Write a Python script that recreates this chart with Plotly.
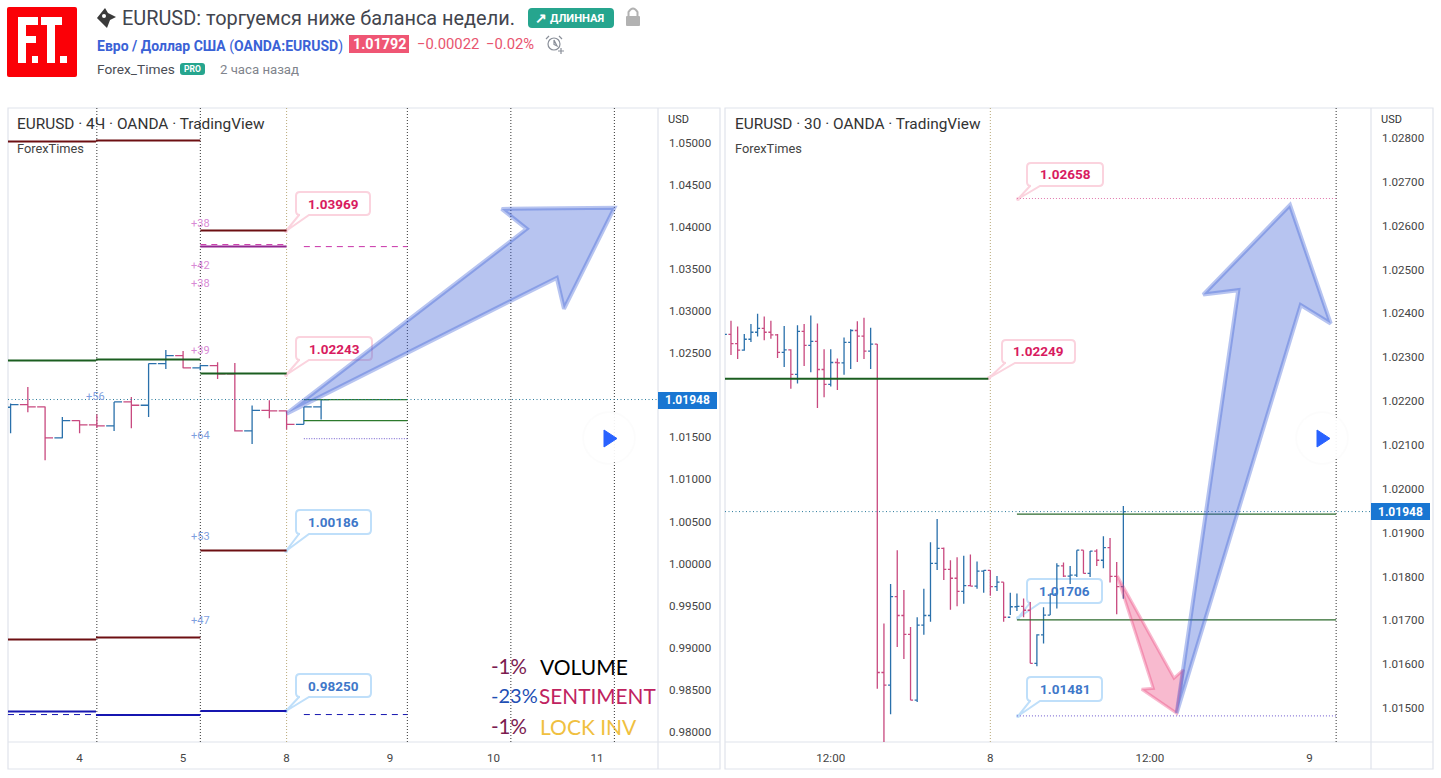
import plotly.graph_objects as go

W, H = 1441, 778

# 4H panel bars
left_open = [1.01856, 1.01888, 1.01860, 1.01492, 1.01698, 1.01646, 1.01634, 1.01919, 1.01880, 1.02375,
             1.02470, 1.02323, 1.02351, 1.02252, 1.01575, 1.01820, 1.01813, 1.01654, 1.01860]
left_high = [1.01900, 1.02098, 1.01864, 1.01741, 1.01702, 1.01769, 1.01919, 1.01979, 1.02375, 1.02537,
             1.02525, 1.02363, 1.02391, 1.02383, 1.01876, 1.01939, 1.01817, 1.01860, 1.01948]
left_low = [1.01547, 1.01797, 1.01226, 1.01488, 1.01547, 1.01611, 1.01575, 1.01607, 1.01741, 1.02312,
            1.02319, 1.02296, 1.02193, 1.01567, 1.01421, 1.01725, 1.01591, 1.01654, 1.01710]
left_close = [1.01888, 1.01860, 1.01492, 1.01698, 1.01646, 1.01634, 1.01919, 1.01880, 1.02375, 1.02470,
              1.02323, 1.02351, 1.02252, 1.01575, 1.01820, 1.01813, 1.01654, 1.01860, 1.01948]

# 30m panel bars, first one sits just off the left edge
right_open = [1.02340, 1.02352, 1.02331, 1.02316, 1.02341, 1.02357, 1.02366, 1.02357, 1.02351, 1.02311,
              1.02317, 1.02261, 1.02359, 1.02327, 1.02336, 1.02272, 1.02238, 1.02288, 1.02287, 1.02334,
              1.02361, 1.02348, 1.02314, 1.02330, 1.01581, 1.01552, 1.01754, 1.01711, 1.01668, 1.01518,
              1.01689, 1.01711, 1.01830, 1.01864, 1.01816, 1.01796, 1.01766, 1.01779, 1.01778, 1.01812,
              1.01814, 1.01777, 1.01787, 1.01707, 1.01731, 1.01732, 1.01723, 1.01602, 1.01667, 1.01712,
              1.01760, 1.01824, 1.01801, 1.01803, 1.01860, 1.01807, 1.01858, 1.01837, 1.01866, 1.01800,
              1.01777]
right_high = [1.02375, 1.02383, 1.02370, 1.02353, 1.02376, 1.02399, 1.02393, 1.02383, 1.02353, 1.02371,
              1.02318, 1.02373, 1.02376, 1.02395, 1.02377, 1.02318, 1.02318, 1.02297, 1.02345, 1.02364,
              1.02382, 1.02390, 1.02367, 1.02330, 1.01693, 1.01783, 1.01860, 1.01769, 1.01685, 1.01707,
              1.01772, 1.01878, 1.01931, 1.01866, 1.01837, 1.01844, 1.01847, 1.01850, 1.01834, 1.01814,
              1.01814, 1.01801, 1.01787, 1.01763, 1.01761, 1.01750, 1.01742, 1.01668, 1.01730, 1.01761,
              1.01830, 1.01832, 1.01824, 1.01860, 1.01860, 1.01858, 1.01862, 1.01892, 1.01888, 1.01833,
              1.01961]
right_low = [1.02320, 1.02305, 1.02296, 1.02315, 1.02335, 1.02347, 1.02339, 1.02342, 1.02298, 1.02278,
             1.02228, 1.02240, 1.02280, 1.02266, 1.02184, 1.02209, 1.02233, 1.02225, 1.02260, 1.02273,
             1.02289, 1.02296, 1.02273, 1.01544, 1.01420, 1.01486, 1.01639, 1.01612, 1.01518, 1.01514,
             1.01667, 1.01697, 1.01815, 1.01792, 1.01724, 1.01732, 1.01738, 1.01778, 1.01772, 1.01763,
             1.01756, 1.01767, 1.01697, 1.01712, 1.01721, 1.01707, 1.01602, 1.01595, 1.01647, 1.01712,
             1.01727, 1.01799, 1.01783, 1.01799, 1.01807, 1.01799, 1.01824, 1.01819, 1.01786, 1.01714,
             1.01749]
right_close = [1.02352, 1.02331, 1.02316, 1.02341, 1.02357, 1.02366, 1.02357, 1.02351, 1.02311, 1.02317,
               1.02261, 1.02359, 1.02327, 1.02336, 1.02272, 1.02238, 1.02288, 1.02287, 1.02334, 1.02361,
               1.02348, 1.02314, 1.02330, 1.01581, 1.01552, 1.01754, 1.01711, 1.01668, 1.01518, 1.01689,
               1.01711, 1.01830, 1.01864, 1.01816, 1.01796, 1.01766, 1.01779, 1.01778, 1.01812, 1.01814,
               1.01777, 1.01787, 1.01707, 1.01731, 1.01732, 1.01723, 1.01602, 1.01667, 1.01712, 1.01760,
               1.01824, 1.01801, 1.01803, 1.01860, 1.01807, 1.01858, 1.01837, 1.01866, 1.01800, 1.01777,
               1.01948]

last_price = 1.01948

# axes, 1.02000 on the left scale sits under the price tag
left_yticks = [0.98, 0.985, 0.99, 0.995, 1.0, 1.005, 1.01, 1.015, 1.025, 1.03, 1.035, 1.04, 1.045, 1.05]
right_yticks = [1.015, 1.016, 1.017, 1.018, 1.019, 1.02, 1.021, 1.022, 1.023, 1.024, 1.025, 1.026, 1.027, 1.028]
left_xticks = [4, 10, 16, 22, 28, 34]
left_xlabels = ["4", "5", "8", "9", "10", "11"]
right_xticks = [15, 39, 63, 87]
right_xlabels = ["12:00", "8", "12:00", "9"]
left_sessions = [5, 11, 23, 29, 35]
left_today = [16]
right_sessions = [91]
right_today = [39]

# levels on the 4H panel: start bar, end bar, price
maroon_x0 = [-0.15, 4.95, 11, 11, -0.15, 4.95]
maroon_x1 = [4.95, 11, 16, 16, 4.95, 11]
maroon_y = [1.05011, 1.05023, 1.03954, 1.00154, 0.99097, 0.99121]
green_x0 = [-0.15, 4.95, 11]
green_x1 = [4.95, 11, 16]
green_y = [1.02411, 1.02422, 1.02256]
magenta_x0 = [11]
magenta_x1 = [16]
magenta_y = [1.03764]
magenta_dash_x0 = [11, 17]
magenta_dash_x1 = [16, 23]
magenta_dash_y = [1.03788, 1.03764]
navy_x0 = [-0.15, 4.95, 11]
navy_x1 = [4.95, 11, 16]
navy_y = [0.98243, 0.98201, 0.98248]
navy_dash_x0 = [-0.15, 4.95, 17]
navy_dash_x1 = [4.95, 11, 23]
navy_dash_y = [0.98207, 0.98207, 0.98207]
left_target_x0 = [17, 17]
left_target_x1 = [23, 23]
left_target_y = [1.01948, 1.01698]
left_stop_x0 = [17]
left_stop_x1 = [23]
left_stop_y = [1.01484]

# levels on the 30m panel
right_green_x0 = [-0.9]
right_green_x1 = [38.7]
right_green_y = [1.02251]
right_thin_x0 = [43, 43]
right_thin_x1 = [91, 91]
right_thin_y = [1.01942, 1.01701]
right_top_x0 = [43]
right_top_x1 = [91]
right_top_y = [1.02662]
right_bottom_x0 = [43]
right_bottom_x1 = [91]
right_bottom_y = [1.01482]

# hand drawn arrows
left_arrow_x = [16, 29.92, 28.47, 35.0, 32.08, 31.66, 16]
left_arrow_y = [1.01781, 1.03975, 1.04212, 1.04224, 1.03025, 1.03393, 1.01781]
up_arrow_x = [67.02, 76.29, 71.02, 84.06, 90.18, 85.67, 67.02]
up_arrow_y = [1.01488, 1.02453, 1.02443, 1.02647, 1.02377, 1.02419, 1.01488]
down_arrow_x = [58.09, 63.5, 61.76, 67.02, 68.02, 66.62, 58.09]
down_arrow_y = [1.01801, 1.01545, 1.01543, 1.01488, 1.01587, 1.01568, 1.01801]

# pip counts next to the levels
pip_labels = ["+38", "+42", "+38", "+39", "+56", "+64", "+53", "+47"]
pip_x = [200, 200, 200, 200, 95, 200, 200, 200]
pip_y = [224, 266, 283, 350, 396, 435, 536, 620]
pip_colors = ["#d98bd6", "#d98bd6", "#d98bd6", "#d98bd6", "#7f9fe0", "#7f9fe0", "#7f9fe0", "#7f9fe0"]

PINK = "#d81b60"
PINK_BORDER = "#fbd3de"
BLUE = "#3f78c9"
BLUE_BORDER = "#bfdffa"
callouts = [
    ("1.03969", 296, 192, 370, 215, 286, 231, PINK, PINK_BORDER),
    ("1.02243", 296, 337, 372, 360, 286, 375, PINK, PINK_BORDER),
    ("1.00186", 296, 510, 371, 534, 286, 551, BLUE, BLUE_BORDER),
    ("0.98250", 296, 674, 371, 697, 286, 711, BLUE, BLUE_BORDER),
    ("1.02658", 1027, 163, 1103, 186, 1018, 199, PINK, PINK_BORDER),
    ("1.02249", 1002, 340, 1075, 363, 989, 378, PINK, PINK_BORDER),
    ("1.01706", 1027, 579, 1102, 603, 1018, 618, BLUE, BLUE_BORDER),
    ("1.01481", 1027, 677, 1102, 701, 1018, 716, BLUE, BLUE_BORDER),
]


def fx(x):
    return x / W


def fy(y):
    return 1 - y / H


def poly(points):
    return "M " + " L ".join(f"{fx(x):.5f} {fy(y):.5f}" for x, y in points) + " Z"


def rrect(x0, y0, x1, y1, r=4):
    p = [f"M {fx(x0 + r):.5f} {fy(y0):.5f}",
         f"L {fx(x1 - r):.5f} {fy(y0):.5f}",
         f"Q {fx(x1):.5f} {fy(y0):.5f} {fx(x1):.5f} {fy(y0 + r):.5f}",
         f"L {fx(x1):.5f} {fy(y1 - r):.5f}",
         f"Q {fx(x1):.5f} {fy(y1):.5f} {fx(x1 - r):.5f} {fy(y1):.5f}",
         f"L {fx(x0 + r):.5f} {fy(y1):.5f}",
         f"Q {fx(x0):.5f} {fy(y1):.5f} {fx(x0):.5f} {fy(y1 - r):.5f}",
         f"L {fx(x0):.5f} {fy(y0 + r):.5f}",
         f"Q {fx(x0):.5f} {fy(y0):.5f} {fx(x0 + r):.5f} {fy(y0):.5f} Z"]
    return " ".join(p)


def callout_path(x0, y0, x1, y1, tx, ty, r=4):
    p = [f"M {fx(x0 + r):.5f} {fy(y0):.5f}",
         f"L {fx(x1 - r):.5f} {fy(y0):.5f}",
         f"Q {fx(x1):.5f} {fy(y0):.5f} {fx(x1):.5f} {fy(y0 + r):.5f}",
         f"L {fx(x1):.5f} {fy(y1 - r):.5f}",
         f"Q {fx(x1):.5f} {fy(y1):.5f} {fx(x1 - r):.5f} {fy(y1):.5f}",
         f"L {fx(x0 + 13):.5f} {fy(y1):.5f}",
         f"L {fx(tx):.5f} {fy(ty):.5f}",
         f"L {fx(x0 + 3):.5f} {fy(y1):.5f}",
         f"L {fx(x0 + r):.5f} {fy(y1):.5f}",
         f"Q {fx(x0):.5f} {fy(y1):.5f} {fx(x0):.5f} {fy(y1 - r):.5f}",
         f"L {fx(x0):.5f} {fy(y0 + r):.5f}",
         f"Q {fx(x0):.5f} {fy(y0):.5f} {fx(x0 + r):.5f} {fy(y0):.5f} Z"]
    return " ".join(p)


fig = go.Figure()


def add_bars(x, o, h, l, c, xa, ya, tick):
    fig.add_trace(go.Ohlc(
        x=x, open=o, high=h, low=l, close=c, xaxis=xa, yaxis=ya, tickwidth=tick,
        increasing=dict(line=dict(color="#2a70ab", width=1.3)),
        decreasing=dict(line=dict(color="#c8497f", width=1.3)),
        showlegend=False, hoverinfo="skip"))


def add_levels(x0s, x1s, ys, color, width, dash, xa, ya):
    xs, yy = [], []
    for a, b, v in zip(x0s, x1s, ys):
        xs += [a, b, None]
        yy += [v, v, None]
    fig.add_trace(go.Scatter(x=xs, y=yy, mode="lines", xaxis=xa, yaxis=ya, showlegend=False,
                             hoverinfo="skip", line=dict(color=color, width=width, dash=dash)))


def add_arrow(x, y, rgba, width, xa, ya):
    fig.add_trace(go.Scatter(x=x, y=y, mode="lines", fill="toself", fillcolor=rgba, xaxis=xa, yaxis=ya,
                             showlegend=False, hoverinfo="skip",
                             line=dict(color=rgba, width=width, shape="linear")))


add_bars(list(range(len(left_open))), left_open, left_high, left_low, left_close, "x", "y", 0.46)
add_bars(list(range(-1, len(right_open) - 1)), right_open, right_high, right_low, right_close, "x2", "y2", 0.38)

add_levels(maroon_x0, maroon_x1, maroon_y, "#6d0f12", 2, "solid", "x", "y")
add_levels(green_x0, green_x1, green_y, "#1b5e20", 2, "solid", "x", "y")
add_levels(magenta_x0, magenta_x1, magenta_y, "#92278f", 2, "solid", "x", "y")
add_levels(magenta_dash_x0, magenta_dash_x1, magenta_dash_y, "#c832a8", 1, "6px,5px", "x", "y")
add_levels(navy_x0, navy_x1, navy_y, "#1616b0", 2, "solid", "x", "y")
add_levels(navy_dash_x0, navy_dash_x1, navy_dash_y, "#1616b0", 1, "6px,5px", "x", "y")
add_levels(left_target_x0, left_target_x1, left_target_y, "#2c7a2c", 1.2, "solid", "x", "y")
add_levels(left_stop_x0, left_stop_x1, left_stop_y, "#8c7bd8", 1.2, "1px,1.5px", "x", "y")
add_levels([-0.15], [37.53], [last_price], "#2b7a9c", 1, "1px,2.5px", "x", "y")

add_levels(right_green_x0, right_green_x1, right_green_y, "#1b5e20", 2, "solid", "x2", "y2")
add_levels(right_thin_x0, right_thin_x1, right_thin_y, "#2c6a2c", 1.2, "solid", "x2", "y2")
add_levels(right_top_x0, right_top_x1, right_top_y, "#e27bb0", 1.2, "1px,2px", "x2", "y2")
add_levels(right_bottom_x0, right_bottom_x1, right_bottom_y, "#8c7bd8", 1.2, "1px,2px", "x2", "y2")
add_levels([-0.9], [96.24], [last_price], "#2b7a9c", 1, "1px,2.5px", "x2", "y2")

add_arrow(left_arrow_x, left_arrow_y, "rgba(60,95,215,0.37)", 4, "x", "y")
add_arrow(down_arrow_x, down_arrow_y, "rgba(236,64,122,0.36)", 3, "x2", "y2")
add_arrow(up_arrow_x, up_arrow_y, "rgba(60,95,215,0.37)", 4, "x2", "y2")

shapes = []
# panel frames
for x0, x1, sep in [(8, 720, 658), (725, 1433, 1371)]:
    shapes.append(dict(type="rect", xref="paper", yref="paper", x0=fx(x0), x1=fx(x1), y0=fy(108), y1=fy(769),
                       line=dict(color="#e0e3eb", width=1.2), layer="below"))
    shapes.append(dict(type="line", xref="paper", yref="paper", x0=fx(sep), x1=fx(sep), y0=fy(108), y1=fy(769),
                       line=dict(color="#e0e3eb", width=1.2), layer="below"))
    shapes.append(dict(type="line", xref="paper", yref="paper", x0=fx(x0), x1=fx(x1), y0=fy(742), y1=fy(742),
                       line=dict(color="#e0e3eb", width=1.2), layer="below"))

# session separators
for xr, sessions, today in [("x", left_sessions, left_today), ("x2", right_sessions, right_today)]:
    for v in sessions:
        shapes.append(dict(type="line", xref=xr, yref="paper", x0=v, x1=v, y0=fy(742), y1=fy(108),
                           line=dict(color="#333333", width=1, dash="1px,2px"), layer="below"))
    for v in today:
        shapes.append(dict(type="line", xref=xr, yref="paper", x0=v, x1=v, y0=fy(742), y1=fy(108),
                           line=dict(color="#b9a877", width=1, dash="1px,2px"), layer="below"))

# callouts
for text, x0, y0, x1, y1, tx, ty, col, border in callouts:
    shapes.append(dict(type="path", xref="paper", yref="paper", path=callout_path(x0, y0, x1, y1, tx, ty),
                       fillcolor="white", line=dict(color=border, width=2), layer="below"))
    shapes.append(dict(type="circle", xref="paper", yref="paper", x0=fx(tx - 2), x1=fx(tx + 2), y0=fy(ty + 2),
                       y1=fy(ty - 2), fillcolor=border, line=dict(width=0), layer="below"))

# play buttons
for cx in [609, 1322]:
    shapes.append(dict(type="circle", xref="paper", yref="paper", x0=fx(cx - 27), x1=fx(cx + 27), y0=fy(465),
                       y1=fy(411), fillcolor="rgba(0,0,0,0.012)", line=dict(width=0)))
    shapes.append(dict(type="circle", xref="paper", yref="paper", x0=fx(cx - 25), x1=fx(cx + 25), y0=fy(463),
                       y1=fy(413), fillcolor="rgba(255,255,255,0.92)", line=dict(width=0)))
    shapes.append(dict(type="path", xref="paper", yref="paper",
                       path=poly([(cx - 5, 430), (cx + 8, 438.5), (cx - 5, 447)]),
                       fillcolor="#2962ff", line=dict(color="#2962ff", width=1)))

# last price tags
shapes.append(dict(type="rect", xref="paper", yref="paper", x0=fx(658), x1=fx(717), y0=fy(409), y1=fy(392),
                   fillcolor="#1976d2", line=dict(width=0)))
shapes.append(dict(type="rect", xref="paper", yref="paper", x0=fx(1371), x1=fx(1430), y0=fy(520), y1=fy(503),
                   fillcolor="#1976d2", line=dict(width=0)))

# header: logo
shapes.append(dict(type="path", xref="paper", yref="paper", path=rrect(7, 7, 77, 77, 2),
                   fillcolor="#fb0007", line=dict(width=0)))
for pts in [
    [(18, 17), (38, 17), (38, 25), (26, 25), (26, 36), (36, 36), (36, 43), (26, 43), (26, 63), (18, 63)],
    [(32, 56), (38, 56), (38, 63), (32, 63)],
    [(41, 17), (62, 17), (62, 25), (55, 25), (55, 63), (47, 63), (47, 25), (41, 25)],
    [(60, 56), (67, 56), (67, 63), (60, 63)],
]:
    shapes.append(dict(type="path", xref="paper", yref="paper", path=poly(pts), fillcolor="white", line=dict(width=0)))

# header: idea icon
shapes.append(dict(type="path", xref="paper", yref="paper",
                   path=poly([(97, 18), (105, 8), (108, 13), (116, 17), (110, 20), (107, 28), (102, 23)]),
                   fillcolor="#3a3a3a", line=dict(width=0)))
shapes.append(dict(type="circle", xref="paper", yref="paper", x0=fx(102), x1=fx(106), y0=fy(18), y1=fy(14),
                   fillcolor="white", line=dict(width=0)))

# header: long badge, lock, price box, alert clock, pro badge
shapes.append(dict(type="path", xref="paper", yref="paper", fillcolor="#26a58e", line=dict(width=0),
                   path=rrect(528, 8, 614, 28, 4)))
shapes.append(dict(type="path", xref="paper", yref="paper", fillcolor="#b2b2b2", line=dict(width=0),
                   path=rrect(626, 16, 640, 26, 1)))
shapes.append(dict(type="path", xref="paper", yref="paper", fillcolor="rgba(0,0,0,0)",
                   line=dict(color="#b2b2b2", width=2),
                   path=f"M {fx(628.5)} {fy(16)} L {fx(628.5)} {fy(12)} Q {fx(633)} {fy(5)} {fx(637.5)} {fy(12)} L {fx(637.5)} {fy(16)}"))
shapes.append(dict(type="rect", xref="paper", yref="paper", x0=fx(349), x1=fx(409), y0=fy(53), y1=fy(35),
                   fillcolor="#ef5674", line=dict(width=0)))
shapes.append(dict(type="circle", xref="paper", yref="paper", x0=fx(548), x1=fx(560), y0=fy(50), y1=fy(38),
                   fillcolor="rgba(0,0,0,0)", line=dict(color="#8a8f99", width=1.2)))
shapes.append(dict(type="path", xref="paper", yref="paper", fillcolor="rgba(0,0,0,0)",
                   line=dict(color="#8a8f99", width=1.2),
                   path=poly([(554, 40), (554, 44.5), (557, 46)]) + " " + poly([(546, 39), (549, 36)]) + " " +
                   poly([(559, 36), (562, 39)]) + " " + poly([(558, 51), (564, 51)]) + " " + poly([(561, 48), (561, 54)])))
shapes.append(dict(type="path", xref="paper", yref="paper", fillcolor="#26a58e", line=dict(width=0),
                   path=rrect(180, 63, 205, 75, 3)))

anns = []


def label(x, y, text, size, color, font="Roboto", anchor="left", weight=None):
    if weight:
        text = f"<b>{text}</b>"
    anns.append(dict(xref="paper", yref="paper", x=fx(x), y=fy(y), text=text, showarrow=False, xanchor=anchor,
                     yanchor="middle", borderpad=0, borderwidth=0,
                     font=dict(family=font, size=size, color=color)))


# header text
label(122, 19, "EURUSD: торгуемся ниже баланса недели.", 19.9, "#42454e")
label(550, 18.5, "ДЛИННАЯ", 11.2, "white", weight=True)
label(535, 18, "↗", 14, "white", weight=True)
label(97, 46, "<b>Евро / Доллар США</b> (<b>OANDA:EURUSD</b>)", 14, "#3a62d6")
label(379, 44.5, "1.01792", 14.3, "white", anchor="center", weight=True)
label(417, 44.5, "−0.00022", 14.8, "#e8546e")
label(486, 44.5, "−0.02%", 14.8, "#e8546e")
label(97, 69, "Forex_Times", 13.7, "#4a4d55")
label(192.5, 69, "PRO", 8.5, "white", anchor="center", weight=True)
label(220, 69, "2 часа назад", 13.2, "#80848c")

# panel text
label(17, 124, "EURUSD · 4Ч · OANDA · TradingView", 15.4, "#333333")
label(17, 148, "ForexTimes", 12.8, "#444444")
label(735, 124, "EURUSD · 30 · OANDA · TradingView", 15.4, "#333333")
label(735, 148, "ForexTimes", 12.8, "#444444")
label(668, 120, "USD", 11, "#333333")
label(1381, 120, "USD", 11, "#333333")
label(687.5, 400.5, "1.01948", 12, "white", anchor="center", weight=True)
label(1400.5, 511.5, "1.01948", 12, "white", anchor="center", weight=True)

for t, x, y, c in zip(pip_labels, pip_x, pip_y, pip_colors):
    label(x, y, t, 11, c, anchor="center")

for text, x0, y0, x1, y1, tx, ty, col, border in callouts:
    label((x0 + x1) / 2, (y0 + y1) / 2, text, 13.5, col, anchor="center", weight=True)

# stats block, no narrow font here so it stays a bit short to keep the widths
STATS_FONT = "Lato"
label(491, 666, "-1%", 20.5, "#7b1c50", font=STATS_FONT)
label(540, 666, "VOLUME", 21, "#000000", font=STATS_FONT)
label(491, 695, "-23%", 20, "#1f4fb4", font=STATS_FONT)
label(539, 695, "SENTIMENT", 20.8, "#c0225f", font=STATS_FONT)
label(491, 726, "-1%", 20.5, "#7b1c50", font=STATS_FONT)
label(540, 726, "LOCK INV", 21, "#f0c040", font=STATS_FONT)

tick_font = dict(family="Roboto", size=11.6, color="#444444")
fig.update_layout(
    width=W, height=H, margin=dict(l=0, r=0, t=0, b=0, autoexpand=False),
    paper_bgcolor="white", plot_bgcolor="white", showlegend=False,
    shapes=shapes, annotations=anns,
    xaxis=dict(domain=[fx(8), fx(658)], range=[-0.15, 37.53], tickmode="array", tickvals=left_xticks,
               ticktext=left_xlabels, showgrid=False, zeroline=False, ticks="", ticklabelstandoff=7,
               tickfont=tick_font, rangeslider=dict(visible=False), anchor="y"),
    yaxis=dict(domain=[fy(742), fy(108)], range=[0.97881, 1.05410], side="right", anchor="x", tickmode="array",
               tickvals=left_yticks, ticktext=[f"{v:.5f}" for v in left_yticks], showgrid=False, zeroline=False,
               ticks="", ticklabelstandoff=10, tickfont=tick_font),
    xaxis2=dict(domain=[fx(725), fx(1371)], range=[-0.9, 96.24], tickmode="array", tickvals=right_xticks,
                ticktext=right_xlabels, showgrid=False, zeroline=False, ticks="", ticklabelstandoff=7,
                tickfont=tick_font, rangeslider=dict(visible=False), anchor="y2"),
    yaxis2=dict(domain=[fy(742), fy(108)], range=[1.014225, 1.028684], side="right", anchor="x2", tickmode="array",
                tickvals=right_yticks, ticktext=[f"{v:.5f}" for v in right_yticks], showgrid=False, zeroline=False,
                ticks="", ticklabelstandoff=10, tickfont=tick_font),
)

# the default body margin would push the fixed size figure off the page
fig.write_html("out.html", config={"displayModeBar": False}, post_script="document.body.style.margin = '0';")
